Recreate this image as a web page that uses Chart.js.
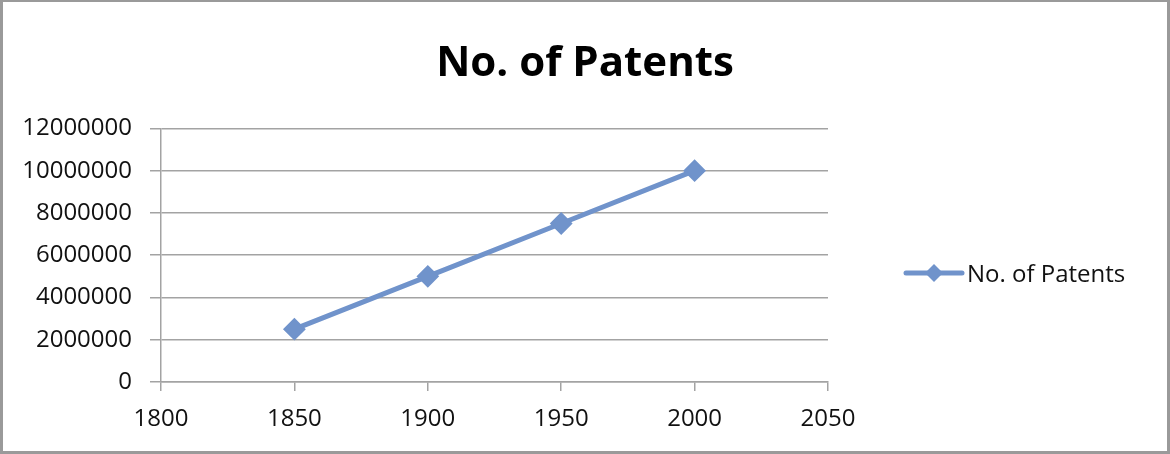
<!DOCTYPE html>
<html>
<head>
<meta charset="utf-8">
<script src="https://cdn.jsdelivr.net/npm/chart.js@4"></script>
<style>
  html, body { margin: 0; padding: 0; background: #fff; }
  #wrap { width: 1170px; height: 454px; }
</style>
</head>
<body>
<div id="wrap"><canvas id="chart" width="1170" height="454"></canvas></div>
<script>
// values
const years = [1850, 1900, 1950, 2000]
const patents = [2500000, 5000000, 7500000, 10000000]
const seriesName = 'No. of Patents'
const xTicks = [1800, 1850, 1900, 1950, 2000, 2050]
const yTicks = [0, 2000000, 4000000, 6000000, 8000000, 10000000, 12000000]

const blue = '#7093cb'
const gridGray = '#a3a3a3'
const fontName = '"Open Sans", sans-serif'

// legend on the right: line + diamond, then the series name
const sideLegend = {
  id: 'sideLegend',
  afterDraw(chart) {
    const ctx = chart.ctx
    const y = 273
    ctx.save()
    ctx.strokeStyle = blue
    ctx.lineWidth = 5
    ctx.lineCap = 'round'
    ctx.beginPath()
    ctx.moveTo(906, y)
    ctx.lineTo(962, y)
    ctx.stroke()
    ctx.fillStyle = blue
    ctx.beginPath()
    ctx.moveTo(934, y - 9)
    ctx.lineTo(943, y)
    ctx.lineTo(934, y + 9)
    ctx.lineTo(925, y)
    ctx.closePath()
    ctx.fill()
    ctx.fillStyle = '#111'
    ctx.font = '24px ' + fontName
    ctx.textBaseline = 'middle'
    ctx.fillText(chart.data.datasets[0].label, 967, y + 2)
    ctx.restore()
  }
}

// thin grey frame round the whole picture
const frame = {
  id: 'frame',
  afterDraw(chart) {
    const ctx = chart.ctx
    ctx.save()
    ctx.strokeStyle = '#9a9a9a'
    ctx.lineWidth = 3
    ctx.strokeRect(1.5, 0.5, chart.width - 3, chart.height - 2)
    ctx.restore()
  }
}

new Chart(document.getElementById('chart'), {
  type: 'line',
  data: {
    datasets: [{
      label: seriesName,
      data: years.map((yr, i) => ({ x: yr, y: patents[i] })),
      borderColor: blue,
      backgroundColor: blue,
      borderWidth: 5,
      pointStyle: 'rectRot',
      pointRadius: 10,
      pointBorderWidth: 2,
      pointBackgroundColor: blue,
      pointBorderColor: blue,
      tension: 0
    }]
  },
  options: {
    responsive: false,
    animation: false,
    layout: { padding: 0 },
    plugins: {
      legend: { display: false },
      tooltip: { enabled: false },
      title: {
        display: true,
        text: seriesName,
        color: '#000',
        font: { family: fontName, size: 42, weight: 'bold' },
        padding: { top: 39, bottom: 39 }
      }
    },
    scales: {
      x: {
        type: 'linear',
        min: xTicks[0],
        max: xTicks[xTicks.length - 1],
        afterBuildTicks: s => { s.ticks = xTicks.map(v => ({ value: v })) },
        afterFit: s => { s.height = 72 },
        grid: { display: true, drawOnChartArea: false, drawTicks: true, tickLength: 9, color: gridGray, lineWidth: 1.5 },
        border: { display: true, color: gridGray, width: 1.5 },
        ticks: {
          color: '#111',
          padding: 14,
          maxRotation: 0,
          font: { family: fontName, size: 24 },
          callback: v => String(v)
        }
      },
      y: {
        min: yTicks[0],
        max: yTicks[yTicks.length - 1],
        afterBuildTicks: s => { s.ticks = yTicks.map(v => ({ value: v })) },
        afterFit: s => { s.width = 161 },
        grid: { color: gridGray, lineWidth: 1.5, tickLength: 11 },
        border: { display: true, color: gridGray, width: 1.5 },
        ticks: {
          color: '#111',
          padding: 18,
          font: { family: fontName, size: 24 },
          callback: v => String(v)
        }
      },
      // empty strip on the right that holds the legend
      side: {
        position: 'right',
        afterFit: s => { s.width = 342 },
        grid: { display: false },
        border: { display: false },
        ticks: { display: false }
      }
    }
  },
  plugins: [sideLegend, frame]
})
</script>
</body>
</html>
